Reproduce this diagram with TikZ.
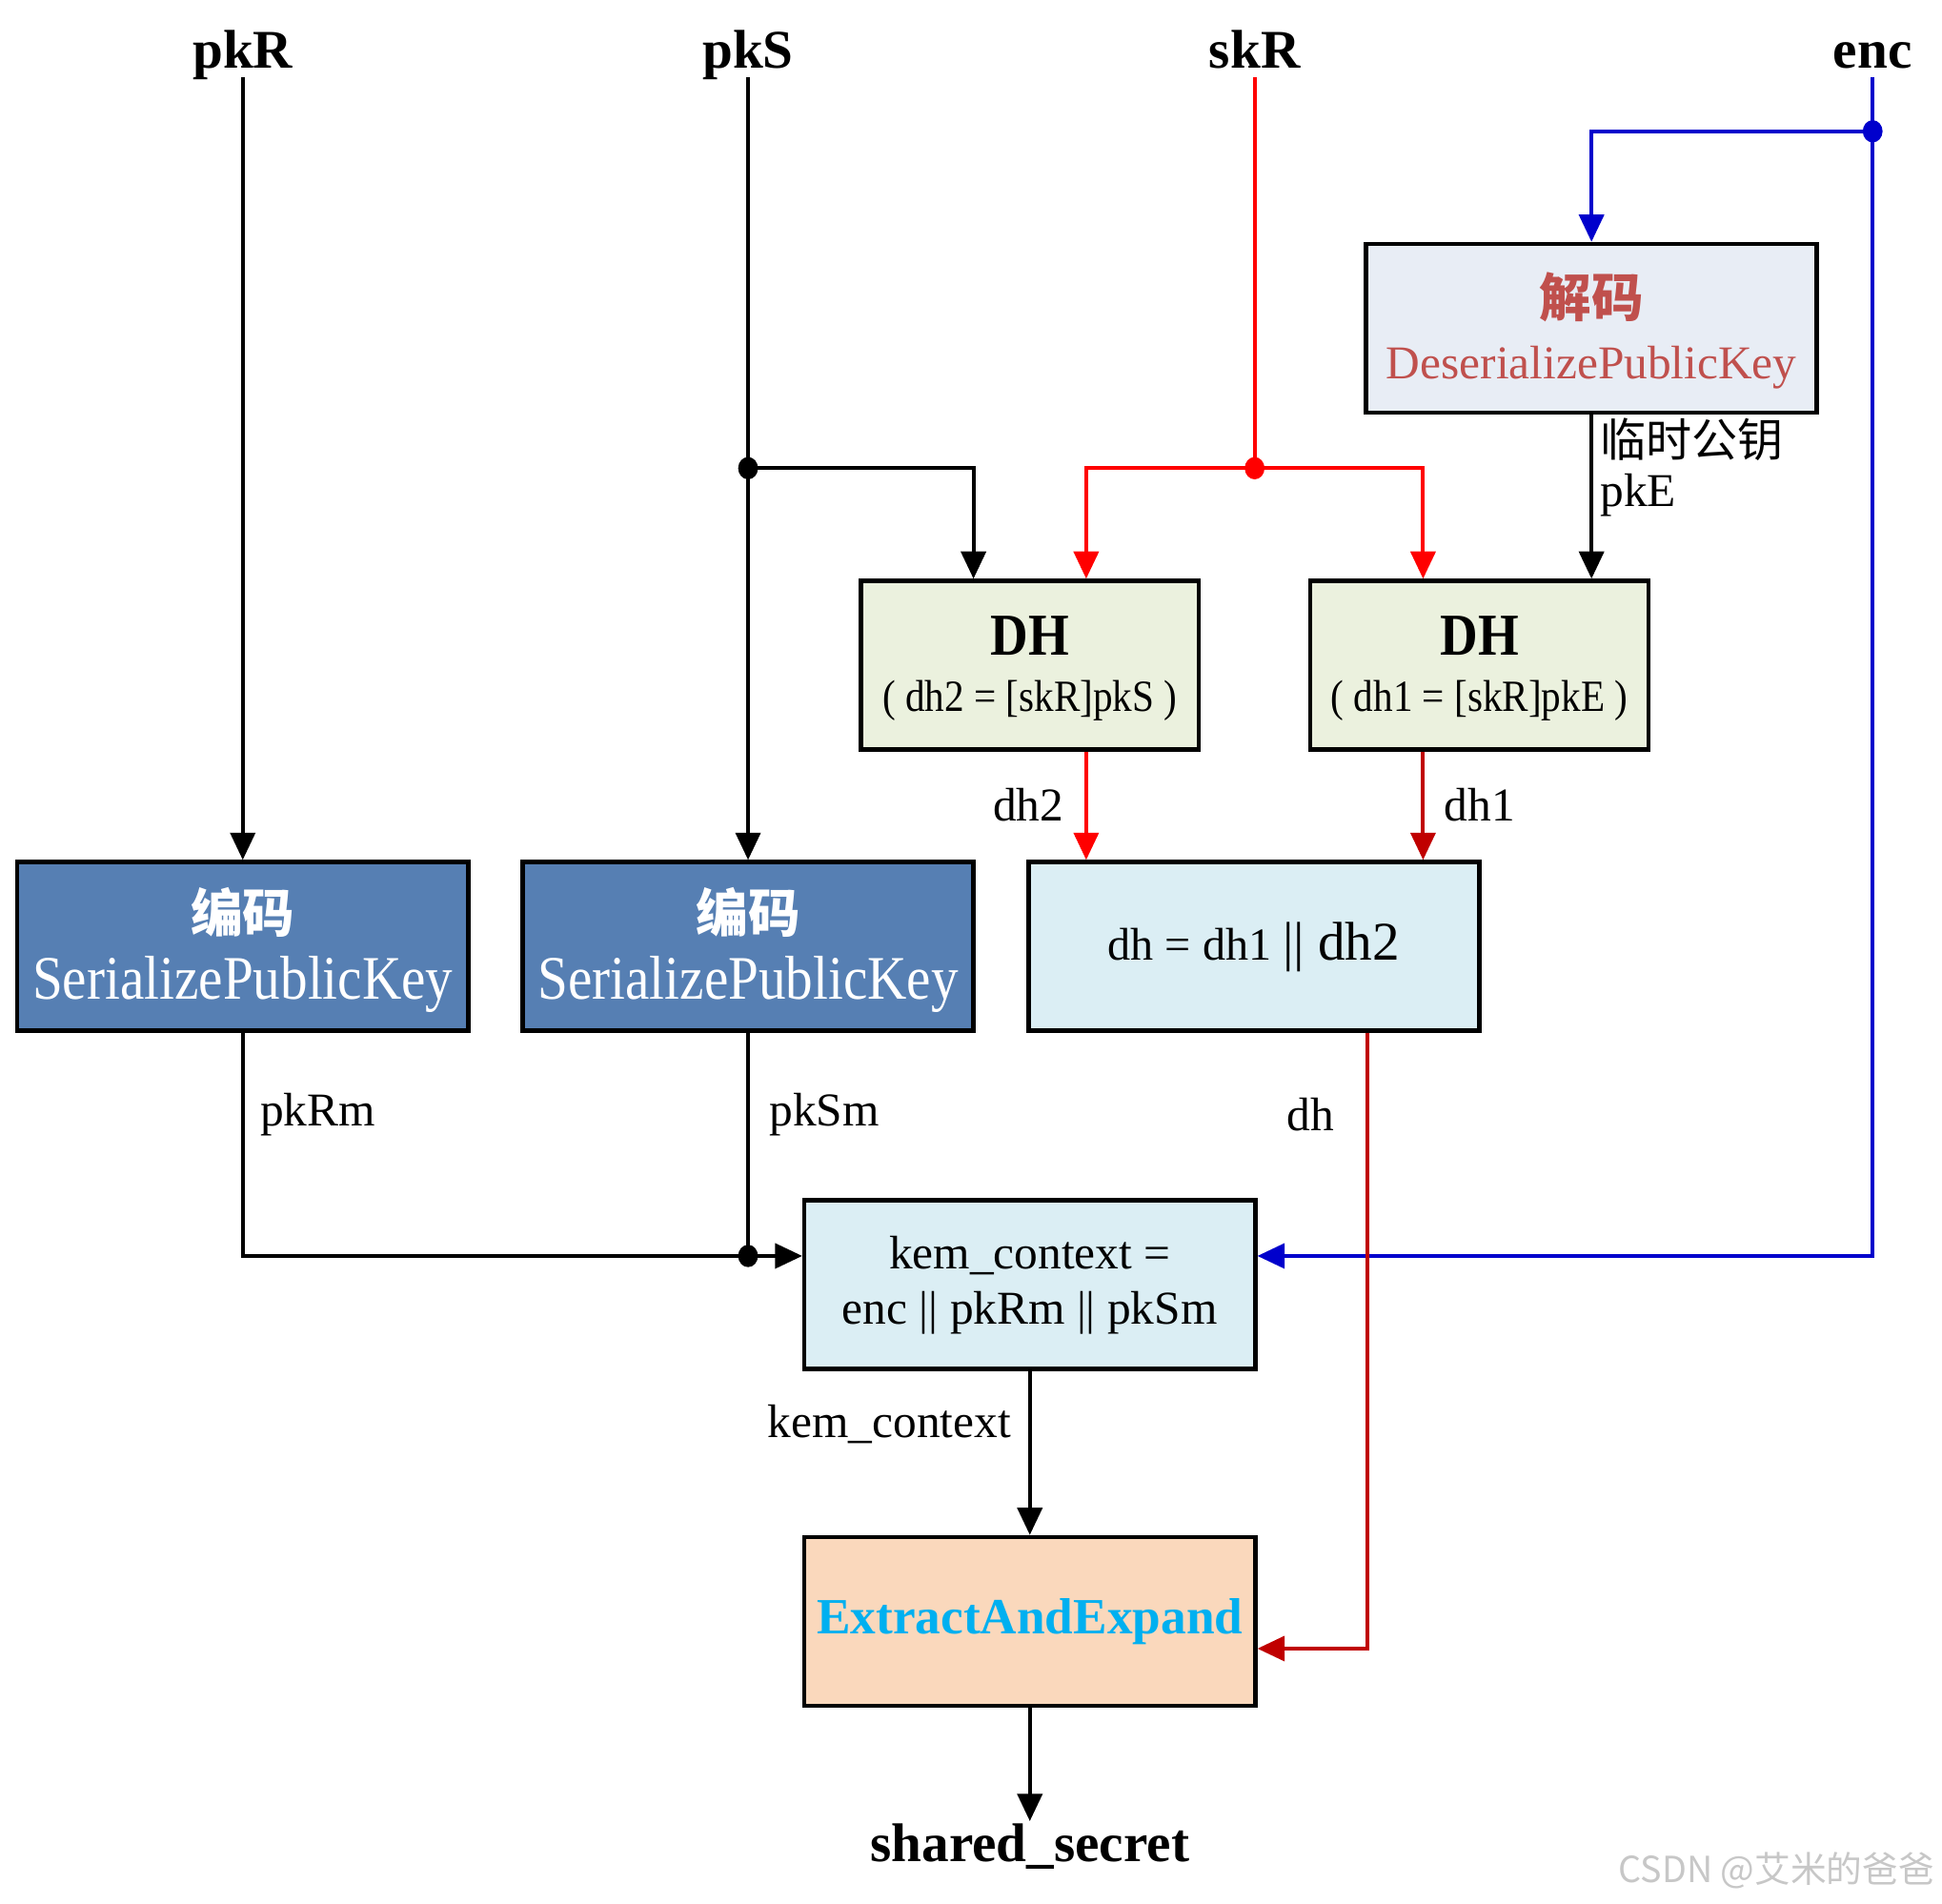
\documentclass[tikz,border=0pt]{standalone}
\usepackage{fontspec}
\usepackage{graphicx}
\setmainfont{Liberation Serif}
\newfontfamily\cjk{Noto Sans CJK SC}
\usetikzlibrary{arrows.meta,calc}
\definecolor{serblue}{RGB}{86,127,179}
\definecolor{desfill}{RGB}{232,237,245}
\definecolor{dhfill}{RGB}{235,241,222}
\definecolor{lblue}{RGB}{219,238,244}
\definecolor{peach}{RGB}{250,216,188}
\definecolor{extcyan}{RGB}{0,176,240}
\definecolor{desred}{RGB}{192,80,77}
\definecolor{pred}{RGB}{255,0,0}
\definecolor{dred}{RGB}{192,0,0}
\definecolor{encblue}{RGB}{0,0,204}
\newcommand\myfs[1]{\fontsize{#1}{#1}\selectfont}
\begin{document}
\begin{tikzpicture}[x=1pt,y=-1pt,
  box/.style={draw=black,line width=3.5pt,inner sep=0pt,minimum width=364pt,minimum height=136pt},
  dhbx/.style={box,minimum width=273pt,fill=dhfill},
  ln/.style={line width=3pt},
  arr/.style={ln,-{Triangle[length=22pt,width=20pt]}},
  lbl/.style={inner sep=0pt,font=\myfs{38}},
  toplbl/.style={inner sep=0pt,anchor=base,font=\bfseries\myfs{44}},
  txt/.style={inner sep=0pt},
]
\useasboundingbox (0,0) rectangle (1568,1537);
% top labels
\node[toplbl] (pkR) at (196,55) {pkR};
\node[toplbl] (pkS) at (604,55) {pkS};
\node[toplbl] (skR) at (1013,55) {skR};
\node[toplbl] (enc) at (1512,55) {enc};
% boxes
\node[box,fill=serblue] (s1) at (196,764) {};
\node[box,fill=serblue] (s2) at (604,764) {};
\node[box,fill=desfill] (des) at (1285,265) {};
\node[dhbx] (dhA) at (831.5,537) {};
\node[dhbx] (dhB) at (1194.5,537) {};
\node[box,fill=lblue] (cat) at (1012.5,764) {};
\node[box,fill=lblue] (kem) at (831.5,1037) {};
\node[box,fill=peach] (ext) at (831.5,1309) {};
% box texts
\node[txt,text=white,font=\cjk\bfseries\myfs{42}] (s1a) at (196,737) {编码};
\node[txt,text=white,font=\myfs{50}] (s1b) at (196,795) {\scalebox{0.88}[1]{SerializePublicKey}};
\node[txt,text=white,font=\cjk\bfseries\myfs{42}] (s2a) at (604,737) {编码};
\node[txt,text=white,font=\myfs{50}] (s2b) at (604,795) {\scalebox{0.88}[1]{SerializePublicKey}};
\node[txt,text=desred,font=\cjk\bfseries\myfs{42}] (desa) at (1285,240) {解码};
\node[txt,text=desred,font=\myfs{38}] (desb) at (1285,297) {DeserializePublicKey};
\node[txt,font=\bfseries\myfs{48}] (dhAa) at (831.5,513) {\scalebox{0.88}[1]{DH}};
\node[txt,font=\myfs{36}] (dhAb) at (831.5,566) {\scalebox{0.88}[1]{( dh2 = [skR]pkS )}};
\node[txt,font=\bfseries\myfs{48}] (dhBa) at (1194.5,513) {\scalebox{0.88}[1]{DH}};
\node[txt,font=\myfs{36}] (dhBb) at (1194.5,566) {\scalebox{0.88}[1]{( dh1 = [skR]pkE )}};
\node[txt] (cata) at (1012.5,765) {{\myfs{37}dh = dh1 }{\myfs{44}|| dh2}};
\node[txt,font=\myfs{38}] (kema) at (831.5,1014) {kem\_context =};
\node[txt,font=\myfs{38}] (kemb) at (831.5,1060) {enc || pkRm || pkSm};
\node[txt,text=extcyan,font=\bfseries\myfs{41}] (exta) at (831.5,1309) {ExtractAndExpand};
% bottom label
\node[inner sep=2pt,anchor=base,font=\bfseries\myfs{44}] (shs) at (831.5,1503) {shared\_secret};
% junctions
\coordinate (jS) at (604,378);
\coordinate (jR) at (1013,378);
\coordinate (jE) at (1512,106);
\coordinate (jK) at (604,1014);
% connectors
\draw[arr] ([yshift=-7pt]pkR.base) -- (s1.north);
\draw[arr] ([yshift=-7pt]pkS.base) -- (s2.north);
\draw[arr] (jS) -| ([xshift=-45.5pt]dhA.north);
\draw[arr,pred] ([yshift=-7pt]skR.base) -- (jR) -| ([xshift=45.5pt]dhA.north);
\draw[arr,pred] (jR) -| ([xshift=-45.5pt]dhB.north);
\draw[arr,encblue] ([yshift=-7pt]enc.base) |- ([yshift=23pt]kem.east);
\draw[arr,encblue] (jE) -| (des.north);
\draw[arr] (des.south) -- (des.south |- dhB.north);
\draw[arr,pred] ([xshift=45.5pt]dhA.south) -- ([xshift=45.5pt]dhA.south |- cat.north);
\draw[arr,dred] ([xshift=-45.5pt]dhB.south) -- ([xshift=-45.5pt]dhB.south |- cat.north);
\draw[arr,dred] ([xshift=91.5pt]cat.south) |- ([yshift=-22pt]ext.east);
\draw[arr] (s1.south) |- ([yshift=23pt]kem.west);
\draw[ln] (s2.south) -- (jK);
\draw[arr] (kem.south) -- (ext.north);
\draw[arr] (ext.south) -- (shs.north);
% dots
\fill (jS) ellipse [x radius=8pt, y radius=9pt];
\fill[pred] (jR) ellipse [x radius=8pt, y radius=9pt];
\fill[encblue] (jE) ellipse [x radius=8pt, y radius=9pt];
\fill (jK) ellipse [x radius=8pt, y radius=9pt];
% connector labels
\node[txt,anchor=west,font=\cjk\myfs{37}] (lt) at (1292,355) {临时公钥};
\node[lbl,anchor=west] (lpkE) at (1292,400) {pkE};
\node[lbl,anchor=east] (ldh2) at (859,650) {dh2};
\node[lbl,anchor=west] (ldh1) at (1166,650) {dh1};
\node[lbl,anchor=west] (lpkRm) at (210,900) {pkRm};
\node[lbl,anchor=west] (lpkSm) at (621,900) {pkSm};
\node[lbl] (ldh) at (1058,900) {dh};
\node[lbl] (lkem) at (718,1150) {kem\_context};
% watermark
\node[txt,anchor=east,text=black!22,font=\cjk\myfs{29}] (wm) at (1562,1510) {CSDN @艾米的爸爸};
\end{tikzpicture}
\end{document}
